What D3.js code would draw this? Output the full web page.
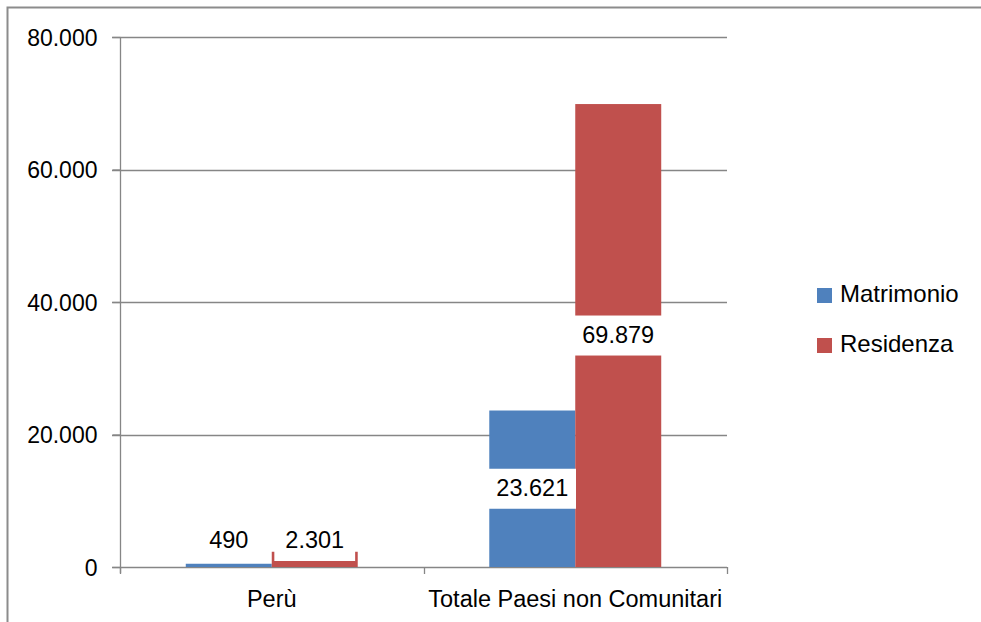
<!DOCTYPE html>
<html>
<head>
<meta charset="utf-8">
<script src="https://cdn.jsdelivr.net/npm/d3@7"></script>
<style>
  body { margin: 0; background: #fff; }
  svg text { font-family: "Liberation Sans", Arial, sans-serif; fill: #000; }
</style>
</head>
<body>
<div id="chart"></div>
<script>
// data
const categories = ["Perù", "Totale Paesi non Comunitari"];
const seriesNames = ["Matrimonio", "Residenza"];
const matrimonio = [490, 23621];
const residenza = [2301, 69879];
const yTicks = [0, 20000, 40000, 60000, 80000];
const colors = ["#4F81BD", "#C0504D"];

const W = 981, H = 622;
const fmt = d3.formatLocale({decimal: ",", thousands: ".", grouping: [3], currency: ["", "€"]}).format(",d");

const svg = d3.select("#chart").append("svg")
    .attr("width", W)
    .attr("height", H);

// outer chart border (runs off the right / bottom edge)
svg.append("rect")
    .attr("x", 7.5).attr("y", 7.5)
    .attr("width", 1000).attr("height", 700)
    .attr("fill", "none")
    .attr("stroke", "#8c8c8c")
    .attr("stroke-width", 2);

const plot = {left: 120, right: 727, top: 37, bottom: 567};

let y = d3.scaleLinear()
    .domain([0, 80000])
    .range([plot.bottom, plot.top]);

let x0 = d3.scaleBand()
    .domain(categories)
    .range([plot.left, plot.right]);

let x1 = d3.scaleBand()
    .domain(seriesNames)
    .range([0, x0.bandwidth()])
    .paddingInner(0)
    .paddingOuter(0.765);

// gridlines
svg.append("g")
    .selectAll("line")
    .data(yTicks)
    .join("line")
    .attr("x1", plot.left - 8)
    .attr("x2", plot.right)
    .attr("y1", d => Math.round(y(d)) + 0.5)
    .attr("y2", d => Math.round(y(d)) + 0.5)
    .attr("stroke", "#868686")
    .attr("stroke-width", 1.3);

// y axis
svg.append("g")
    .attr("transform", "translate(" + (plot.left + 0.5) + ",0)")
    .call(d3.axisLeft(y).tickValues(yTicks).tickFormat(fmt).tickSize(8).tickPadding(15))
    .call(g => g.select(".domain").attr("stroke", "#868686").attr("stroke-width", 1.3).attr("d", "M0," + plot.top + "V" + (plot.bottom + 6)))
    .call(g => g.selectAll(".tick line").attr("stroke", "#868686").attr("stroke-width", 1.3))
    .call(g => g.selectAll(".tick text").style("font-size", "23px").attr("dy", "0.35em").attr("fill", "#000"));

// x axis ticks at category boundaries
const boundaries = [plot.left, x0(categories[1]), plot.right];
svg.append("g")
    .selectAll("line")
    .data(boundaries)
    .join("line")
    .attr("x1", d => Math.round(d) + 0.5)
    .attr("x2", d => Math.round(d) + 0.5)
    .attr("y1", plot.bottom)
    .attr("y2", plot.bottom + 7)
    .attr("stroke", "#868686")
    .attr("stroke-width", 1.3);

svg.append("g")
    .selectAll("text")
    .data(categories)
    .join("text")
    .attr("x", d => x0(d) + x0.bandwidth() / 2)
    .attr("y", 601)
    .attr("text-anchor", "middle")
    .attr("dominant-baseline", "middle")
    .style("font-size", "23.5px")
    .text(d => d);

// bars
const rows = categories.map((c, i) => ({
    cat: c,
    vals: [
        {name: seriesNames[0], value: matrimonio[i], color: colors[0]},
        {name: seriesNames[1], value: residenza[i], color: colors[1]}
    ]
}));

const groups = svg.append("g")
    .selectAll("g")
    .data(rows)
    .join("g")
    .attr("transform", d => "translate(" + x0(d.cat) + ",0)");

groups.selectAll("rect")
    .data(d => d.vals)
    .join("rect")
    .attr("x", d => x1(d.name))
    .attr("y", d => y(d.value))
    .attr("width", x1.bandwidth())
    .attr("height", d => y(0) - y(d.value))
    .attr("fill", d => d.color);

// data labels with white boxes
const labels = groups.selectAll("g.lbl")
    .data(d => d.vals)
    .join("g")
    .attr("class", "lbl")
    .attr("transform", d => {
        const cy = Math.min((y(d.value) + y(0)) / 2, y(0) - 26);
        return "translate(" + (x1(d.name) + x1.bandwidth() / 2) + "," + cy + ")";
    });

labels.each(function(d) {
    const g = d3.select(this);
    const box = g.append("rect").attr("fill", "#fff");
    const t = g.append("text")
        .attr("text-anchor", "middle")
        .attr("dominant-baseline", "middle")
        .attr("dy", 1)
        .style("font-size", "23.5px")
        .text(fmt(d.value));
    const tw = t.node().getComputedTextLength();
    let bw = tw + 22;
    if (bw >= x1.bandwidth()) bw = x1.bandwidth() + 1.5;
    box.attr("x", -bw / 2).attr("y", -20).attr("width", bw).attr("height", 40);
});

// legend
const legend = svg.append("g")
    .selectAll("g")
    .data(seriesNames)
    .join("g")
    .attr("transform", (d, i) => "translate(817," + (288 + i * 50) + ")");

legend.append("rect")
    .attr("width", 15)
    .attr("height", 15)
    .attr("fill", (d, i) => colors[i]);

legend.append("text")
    .attr("x", 23)
    .attr("y", 8)
    .attr("dominant-baseline", "middle")
    .style("font-size", "24px")
    .text(d => d);
</script>
</body>
</html>
